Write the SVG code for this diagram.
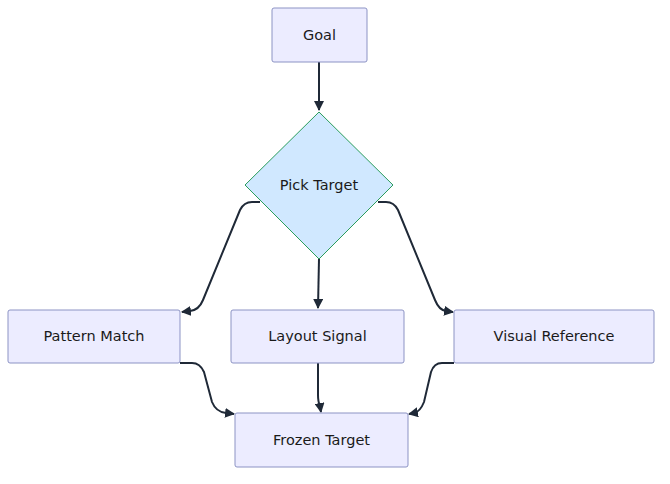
<svg xmlns="http://www.w3.org/2000/svg" width="670" height="484" viewBox="0 0 670 484">
<style>
.n{fill:#ECECFF;stroke:#8C93C4;stroke-width:1}
.t{font-family:"DejaVu Sans",sans-serif;font-size:14.5px;fill:#1a1a1a;text-anchor:middle;dominant-baseline:central}
.e{fill:none;stroke:#1f2937;stroke-width:2}
</style>
<defs><marker id="a" viewBox="0 0 10 10" refX="9" refY="5" markerWidth="5" markerHeight="5" orient="auto"><path d="M0,0L10,5L0,10z" fill="#1f2937"/></marker></defs>
<rect width="670" height="484" fill="#fff"/>
<g id="edges">
<path class="e" d="M319,62V110" marker-end="url(#a)"/>
<path class="e" d="M260,202H252Q244,202 240,210L203,300Q199,310 190,311L182,312" marker-end="url(#a)"/>
<path class="e" d="M378,202H386Q394,202 398,210L435,300Q439,310 446,311L453,312" marker-end="url(#a)"/>
<path class="e" d="M319,259L318,308" marker-end="url(#a)"/>
<path class="e" d="M180,363H192Q200,363 204,372L212,402Q216,412 226,413L234,414" marker-end="url(#a)"/>
<path class="e" d="M318,363V395Q318,402 320,406L321,412" marker-end="url(#a)"/>
<path class="e" d="M454,363H442Q434,363 431,372L424,402Q420,412 414,413L409,414" marker-end="url(#a)"/>
</g>
<g id="goal"><rect class="n" x="272" y="8" width="95" height="54" rx="2"/><text class="t" x="319.5" y="35">Goal</text></g>
<g id="pick"><polygon points="319,112 393,185 319,259 245,185" fill="#D0E8FF" stroke="#2A9D5C" stroke-width="1"/><text class="t" x="319" y="185">Pick Target</text></g>
<g id="pattern"><rect class="n" x="8" y="310" width="172" height="53" rx="2"/><text class="t" x="94" y="336">Pattern Match</text></g>
<g id="layout"><rect class="n" x="231" y="310" width="173" height="53" rx="2"/><text class="t" x="317.5" y="336">Layout Signal</text></g>
<g id="visual"><rect class="n" x="454" y="310" width="200" height="53" rx="2"/><text class="t" x="554" y="336">Visual Reference</text></g>
<g id="frozen"><rect class="n" x="235" y="413" width="173" height="54" rx="2"/><text class="t" x="321.5" y="440">Frozen Target</text></g>
</svg>
